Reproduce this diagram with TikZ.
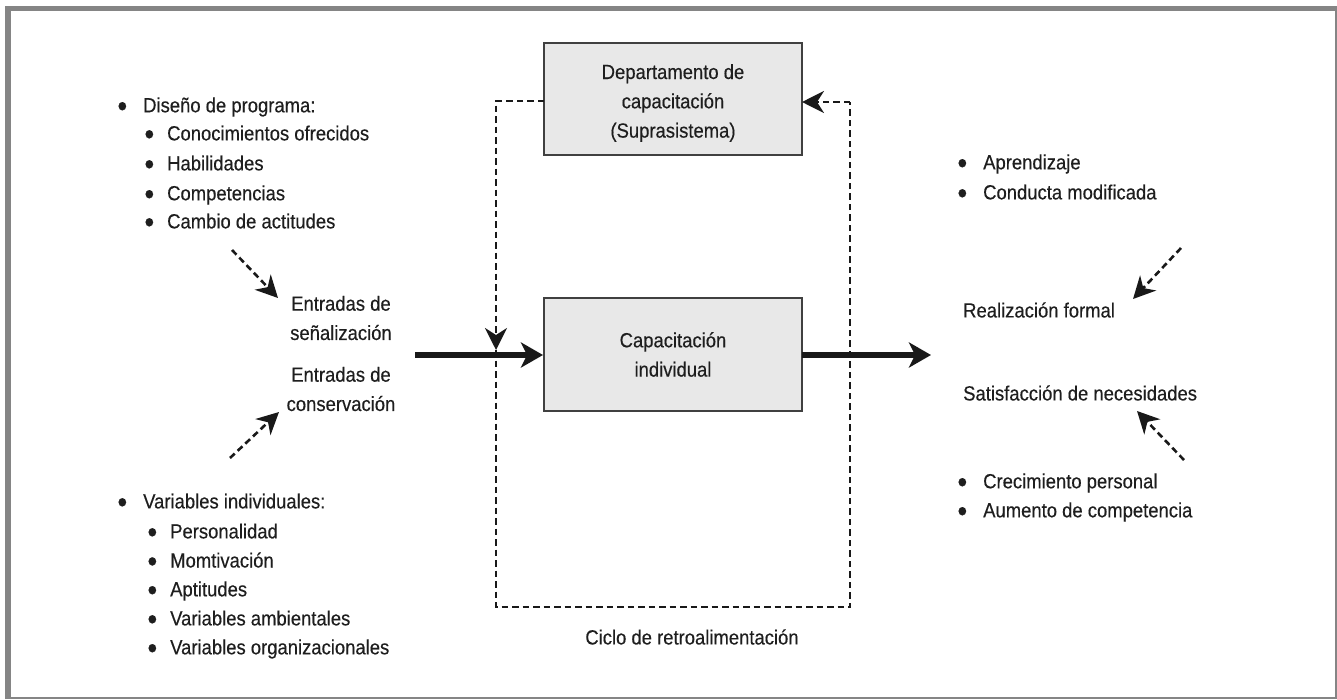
\documentclass[tikz,border=0pt]{standalone}
\usepackage{fontspec}
\setmainfont{Liberation Sans}[FakeStretch=0.9,FakeBold=0.3]
\usetikzlibrary{arrows.meta}
\definecolor{framegray}{HTML}{858585}
\definecolor{boxfill}{HTML}{E8E8E8}
\definecolor{txt}{HTML}{1E1E1E}
\newcommand{\mybul}{\raisebox{-0.2em}{\scalebox{1.5}{•}}}
\newcommand{\mainbul}[1]{\llap{\mybul\hspace{16pt}}#1}
\newcommand{\subbul}[1]{\llap{\mybul\hspace{13pt}}#1}
\begin{document}
\begin{tikzpicture}[x=1pt,y=-1pt,
  every node/.style={text=txt,font=\fontsize{20.5}{29.3}\selectfont,inner sep=0pt},
  sysbox/.style={draw=black!75,line width=1.3pt,fill=boxfill},
  lbl/.style={anchor=west},
  ctr/.style={align=center},
  dsh/.style={line width=2.6pt,dash pattern=on 6.5pt off 4pt,draw=black!90},
  dtip/.style={-{Stealth[length=22pt,width=22pt,inset=7pt]}},
  thick arrow/.style={line width=5.5pt,draw=black!90,-{Stealth[length=22pt,width=25pt,inset=6pt]}}
]
\useasboundingbox (0,0) rectangle (1337,699);
\fill[framegray] (5,6) rectangle (1337,699);
\fill[white] (11,11) rectangle (1335,697);

% boxes
\path[sysbox] (544,43) rectangle (802,155);
\node[ctr] (dep) at (673,103) {Departamento de\\capacitación\\(Suprasistema)};
\coordinate (depL) at (544,101);
\coordinate (depR) at (802,102);
\path[sysbox] (544,298) rectangle (802,411);
\node[ctr] (cap) at (673,354.5) {Capacitación\\individual};
\coordinate (capL) at (543,355);
\coordinate (capR) at (802,355);

% feedback loop
\coordinate (fbTL) at (496,101);
\coordinate (fbHit) at (496,350);
\coordinate (fbBL) at (496,607);
\coordinate (fbBR) at (850,607);
\coordinate (fbTR) at (850,102);
\draw[dsh,dtip] (depL) -- (fbTL) -- (fbHit);
\draw[dsh] (fbHit) -- (fbBL) -- (fbBR) -- (fbTR);
\draw[dsh,dtip] (fbTR) -- (depR);
\node (ciclo) at (692,637) {Ciclo de retroalimentación};

% main arrows
\coordinate (inStart) at (415,355);
\coordinate (outEnd) at (931,355);
\draw[thick arrow] (inStart) -- (capL);
\draw[thick arrow] (capR) -- (outEnd);

% left top list
\node[lbl] (l1) at (143,107) {\mainbul{Diseño de programa:}};
\node[lbl] (l2) at (167,135) {\subbul{Conocimientos ofrecidos}};
\node[lbl] (l3) at (167,165) {\subbul{Habilidades}};
\node[lbl] (l4) at (167,195) {\subbul{Competencias}};
\node[lbl] (l5) at (167,223) {\subbul{Cambio de actitudes}};

% entradas
\node[ctr] (es) at (341,318) {Entradas de\\señalización};
\node[ctr] (ec) at (341,389) {Entradas de\\conservación};
\coordinate (a1s) at (232,250);
\coordinate (a1e) at (278,298);
\draw[dsh,dtip] (a1s) -- (a1e);
\coordinate (a2s) at (230,458);
\coordinate (a2e) at (279,412);
\draw[dsh,dtip] (a2s) -- (a2e);

% left bottom list
\node[lbl] (m1) at (143,503) {\mainbul{Variables individuales:}};
\node[lbl] (m2) at (170,533) {\subbul{Personalidad}};
\node[lbl] (m3) at (170,562) {\subbul{Momtivación}};
\node[lbl] (m4) at (170,591) {\subbul{Aptitudes}};
\node[lbl] (m5) at (170,620) {\subbul{Variables ambientales}};
\node[lbl] (m6) at (170,649) {\subbul{Variables organizacionales}};

% right
\node[lbl] (r1) at (983,164) {\mainbul{Aprendizaje}};
\node[lbl] (r2) at (983,194) {\mainbul{Conducta modificada}};
\node[lbl] (rf) at (963,310) {Realización formal};
\node[lbl] (sn) at (963,393) {Satisfacción de necesidades};
\node[lbl] (r3) at (983,483) {\mainbul{Crecimiento personal}};
\node[lbl] (r4) at (983,512) {\mainbul{Aumento de competencia}};
\coordinate (b1s) at (1181,248);
\coordinate (b1e) at (1133,299);
\draw[dsh,dtip] (b1s) -- (b1e);
\coordinate (b2s) at (1184,460);
\coordinate (b2e) at (1137,411);
\draw[dsh,dtip] (b2s) -- (b2e);
\end{tikzpicture}
\end{document}
